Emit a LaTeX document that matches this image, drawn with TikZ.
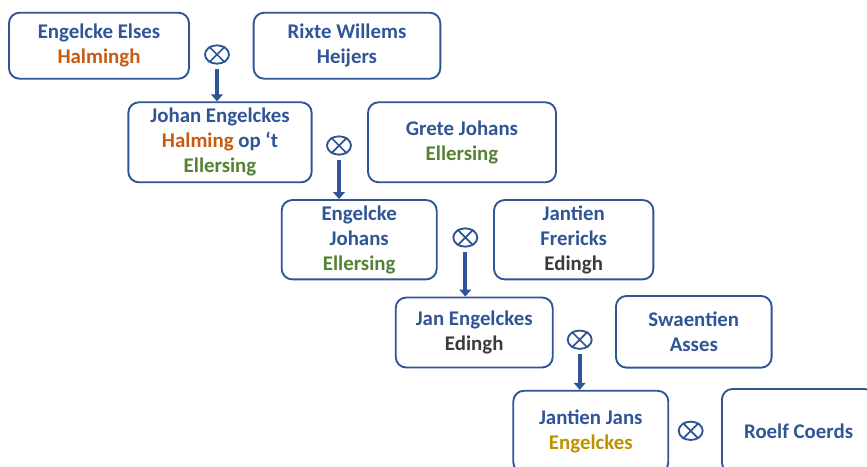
\documentclass[tikz,border=0pt]{standalone}
\usepackage{fontspec}
\setmainfont{Carlito}
\usetikzlibrary{positioning,shapes.geometric,arrows.meta}

\definecolor{stamblauw}{HTML}{2F5597}
\definecolor{halmingh}{HTML}{C55A11}
\definecolor{ellersing}{HTML}{548235}
\definecolor{edingh}{HTML}{3B3B3B}
\definecolor{engelckes}{HTML}{BF9000}

\tikzset{
  persoon/.style={draw=stamblauw, line width=1.6pt, rounded corners=9pt, align=center,
    text=stamblauw, inner sep=0pt, font=\bfseries\fontsize{17.8}{21.3}\selectfont},
  huw/.style={ellipse, draw=stamblauw, line width=1.6pt, minimum width=0.72cm,
    minimum height=0.55cm, inner sep=0pt},
  kruis/.style={stamblauw, line width=1.5pt},
  lijn/.style={stamblauw, line width=3.4pt, -{Triangle[length=6pt,width=10pt]}, shorten <=3.5pt}
}

\begin{document}
\begin{tikzpicture}[x=0.03cm,y=-0.03cm]
 \useasboundingbox (0,0) rectangle (867,466);
 \clip (0,0) rectangle (867,466);

 %Generation 1
 \node (engelcke) [persoon, minimum width=5.4cm, minimum height=1.98cm] at (99,45.7)
   {Engelcke Elses\\ \textcolor{halmingh}{Halmingh}};
 \node (rixte) [persoon, minimum width=5.6cm, minimum height=1.98cm] at (347,45.7)
   {Rixte Willems\\ Heijers};
 \node (h1) [huw] at (217,54.5) {};

 %Generation 2
 \node (johan) [persoon, minimum width=5.5cm, minimum height=2.4cm] at (220,142.3)
   {Johan Engelckes\\ \textcolor{halmingh}{Halming} op ‘t\\ \textcolor{ellersing}{Ellersing}};
 \node (grete) [persoon, minimum width=5.64cm, minimum height=2.4cm] at (462,142.3)
   {Grete Johans\\ \textcolor{ellersing}{Ellersing}};
 \node (h2) [huw] at (339,145.5) {};

 %Generation 3
 \node (engelckej) [persoon, minimum width=4.65cm, minimum height=2.38cm] at (359.2,239.7)
   {Engelcke\\ Johans\\ \textcolor{ellersing}{Ellersing}};
 \node (jantienf) [persoon, minimum width=4.78cm, minimum height=2.38cm] at (573.7,239.7)
   {Jantien\\ Frericks\\ \textcolor{edingh}{Edingh}};
 \node (h3) [huw] at (465.3,237.5) {};

 %Generation 4
 \node (jan) [persoon, minimum width=4.71cm, minimum height=2.1cm] at (474.2,332.5)
   {Jan Engelckes\\ \textcolor{edingh}{Edingh}};
 \node (swaentien) [persoon, minimum width=4.67cm, minimum height=2.15cm] at (693.8,331.8)
   {Swaentien\\ Asses};
 \node (h4) [huw] at (579.7,339.7) {};

 %Generation 5
 \node (jantienj) [persoon, minimum width=4.65cm, minimum height=2.46cm] at (590.8,431.8)
   {Jantien Jans\\ \textcolor{engelckes}{Engelckes}};
 \node (roelf) [persoon, minimum width=4.6cm, minimum height=2.52cm] at (798.6,431)
   {Roelf Coerds};
 \node (h5) [huw] at (690.7,430.8) {};

 %Crosses
 \foreach \m in {h1,h2,h3,h4,h5}
   \draw[kruis] (\m.45) -- (\m.225) (\m.135) -- (\m.-45);

 %Descent
 \draw[lijn] (h1.south) -- (h1 |- johan.north);
 \draw[lijn] (h2.south) -- (h2 |- engelckej.north);
 \draw[lijn] (h3.south) -- (h3 |- jan.north);
 \draw[lijn] (h4.south) -- (h4 |- jantienj.north);

\end{tikzpicture}
\end{document}
